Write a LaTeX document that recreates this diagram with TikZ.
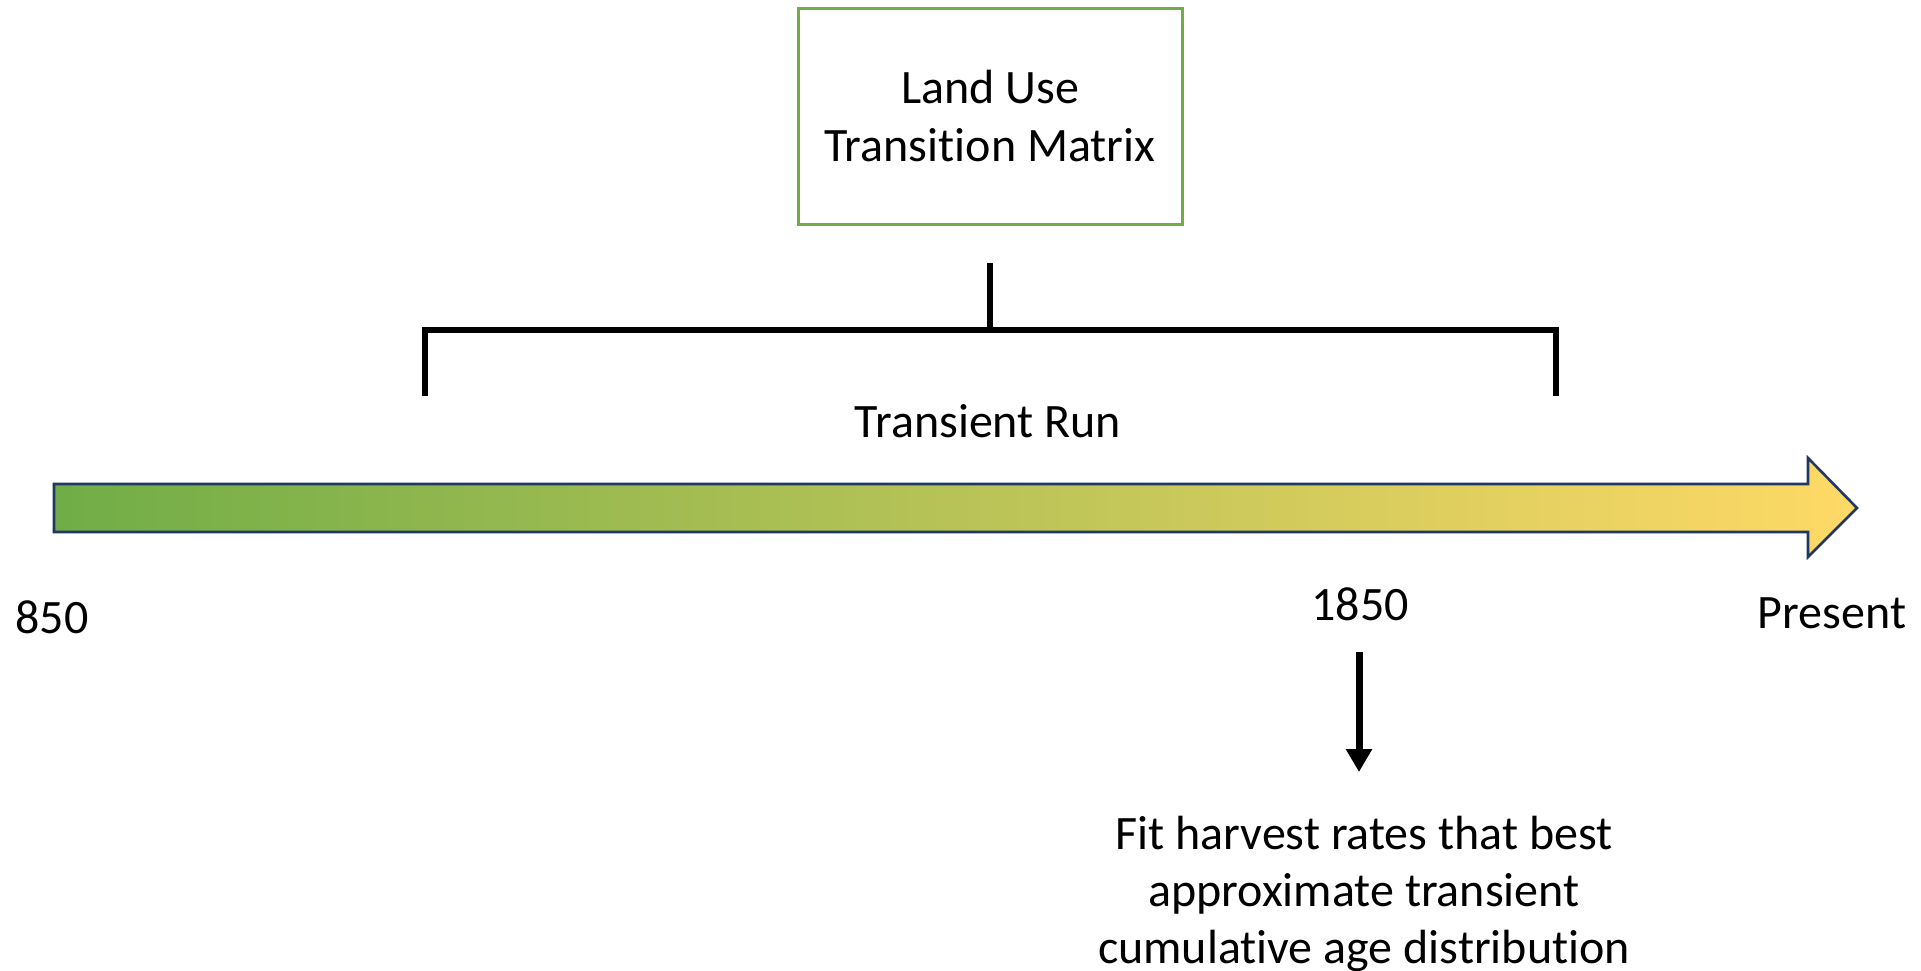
\documentclass[tikz,border=0pt]{standalone}
\usepackage{fontspec}
\setmainfont{Carlito}[RawFeature={-liga;-clig;-calt;-dlig;-rlig}]
\usetikzlibrary{arrows.meta}
\definecolor{boxgreen}{HTML}{70AD47}
\definecolor{tlgreen}{HTML}{70AD47}
\definecolor{tlyellow}{HTML}{FFD966}
\definecolor{tlnavy}{HTML}{1F3864}
\tikzset{
  lbl/.style={font=\fontsize{24pt}{28.7pt}\selectfont, inner sep=0pt, text=black},
  matrixbox/.style={lbl, draw=boxgreen, line width=1.5pt, minimum width=192pt, minimum height=108pt, align=center},
  bracketline/.style={line width=3pt, black},
  downarrow/.style={line width=3.5pt, black, -{Triangle[width=12.5pt,length=11.5pt]}}
}
\begin{document}
\begin{tikzpicture}[x=0.5pt,y=-0.5pt]
\useasboundingbox (0,0) rectangle (1921,970);
% Land use box
\node[matrixbox] (tm) at (990,116) {Land Use\\Transition Matrix};
% bracket
\coordinate (tickTop) at (990,263);
\coordinate (tickBot) at (990,330);
\coordinate (brL) at (425,396);
\coordinate (brR) at (1556,396);
\draw[bracketline] (tickTop) -- (tickBot);
\draw[bracketline, line join=miter] (brL) |- (tickBot) -| (brR);
\node[lbl, anchor=base] (tr) at (988,437) {Transient Run};
% timeline arrow
\path[left color=tlgreen, right color=tlyellow, draw=tlnavy, line width=1.3pt, line join=miter]
  (54,484) -- (1808,484) -- (1808,458) -- (1857,508) -- (1808,557) -- (1808,532) -- (54,532) -- cycle;
% year labels
\node[lbl, anchor=base] (y850) at (52,633) {850};
\node[lbl, anchor=base] (y1850) at (1360,620) {1850};
\node[lbl, anchor=base] (ypres) at (1832,628) {Present};
% down arrow
\coordinate (daTop) at (1359,652);
\coordinate (daEnd) at (1359,772);
\draw[downarrow] (daTop) -- (daEnd);
\node[lbl, align=center] (fit) at (1364,894) {Fit harvest rates that best\\approximate transient\\cumulative age distribution};
\end{tikzpicture}
\end{document}
